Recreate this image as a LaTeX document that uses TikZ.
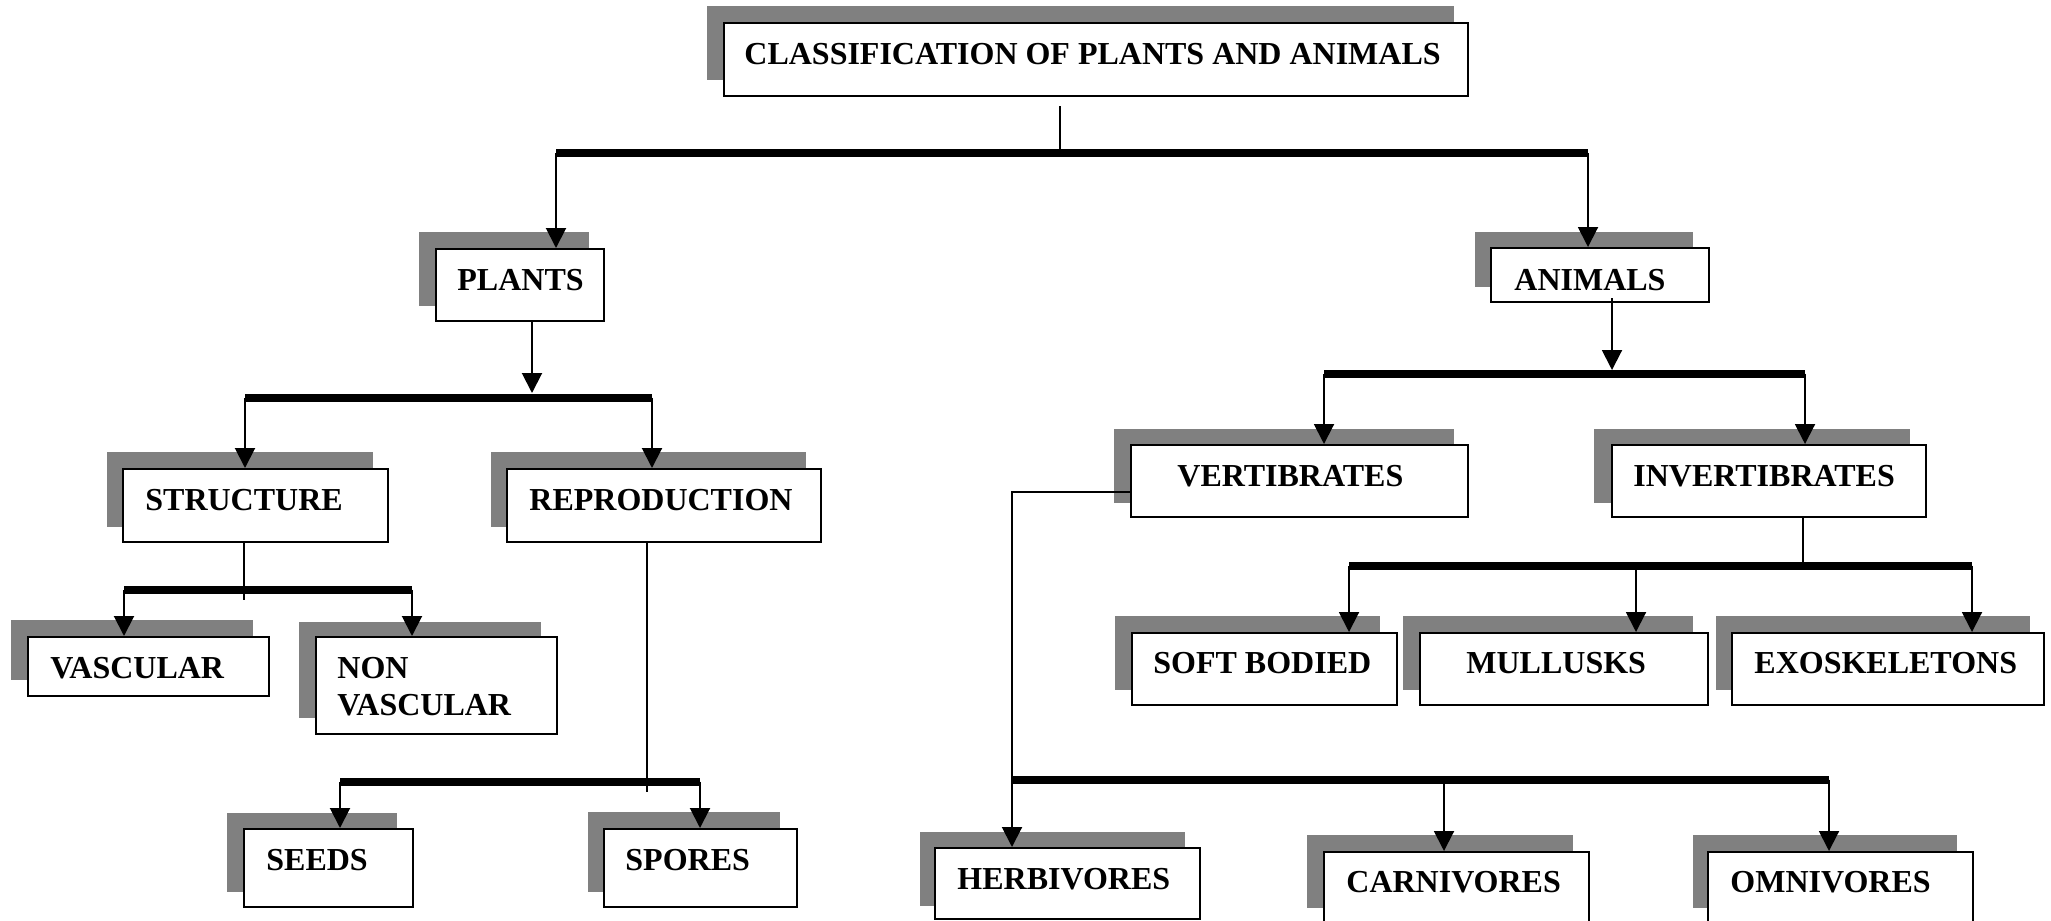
\documentclass[tikz,border=0pt]{standalone}
\usepackage{fontspec}
\setmainfont{Liberation Serif}
\usetikzlibrary{arrows.meta,fit}
\definecolor{shadowgray}{HTML}{808080}
\tikzset{
  boxnode/.style={draw=black, line width=1pt, fill=white, inner sep=0pt, rectangle},
  shadefill/.style={fill=shadowgray},
  lbl/.style={font=\fontsize{16}{18.5}\selectfont\bfseries, inner sep=0pt, anchor=base west, align=left},
  conn/.style={line width=1pt, draw=black},
  arr/.style={line width=1pt, draw=black, -{Triangle[width=10pt,length=10pt]}},
  barline/.style={line width=4pt, draw=black},
}
\newcommand{\shbox}[9]{%
  \fill[shadefill] (#2,#3) rectangle (#4,#5);
  \node[boxnode, fit={(#6,#7) (#8,#9)}] (#1) {};
}
\begin{document}
\begin{tikzpicture}[x=0.5pt,y=-0.5pt]
\clip (0,0) rectangle (2051,921);
\fill[white] (0,0) rectangle (2051,921);

% boxes
\shbox{title}{707}{6}{1454}{80}{724}{23}{1468}{96}
\node[lbl] (title-t) at (744,64) {CLASSIFICATION OF PLANTS AND ANIMALS};
\shbox{plants}{419}{232}{589}{306}{436}{249}{604}{321}
\node[lbl] (plants-t) at (457,290) {PLANTS};
\shbox{animals}{1475}{232}{1693}{287}{1491}{248}{1709}{302}
\node[lbl] (animals-t) at (1514,290) {ANIMALS};
\shbox{structure}{107}{452}{373}{527}{123}{469}{388}{542}
\node[lbl] (structure-t) at (145,510) {STRUCTURE};
\shbox{repro}{491}{452}{806}{527}{507}{469}{821}{542}
\node[lbl] (repro-t) at (529,510) {REPRODUCTION};
\shbox{vasc}{11}{620}{253}{680}{28}{637}{269}{696}
\node[lbl] (vasc-t) at (50,678) {VASCULAR};
\shbox{nonvasc}{299}{622}{541}{718}{316}{637}{557}{734}
\node[lbl] (nonvasc-t) at (337,715) {NON\\VASCULAR};
\shbox{seeds}{227}{813}{397}{892}{244}{829}{413}{907}
\node[lbl] (seeds-t) at (266,870) {SEEDS};
\shbox{spores}{588}{812}{780}{892}{604}{829}{797}{907}
\node[lbl] (spores-t) at (625,870) {SPORES};
\shbox{vert}{1114}{429}{1454}{503}{1131}{445}{1468}{517}
\node[lbl] (vert-t) at (1177,486) {VERTIBRATES};
\shbox{invert}{1594}{429}{1910}{503}{1612}{445}{1926}{517}
\node[lbl] (invert-t) at (1633,486) {INVERTIBRATES};
\shbox{soft}{1115}{616}{1380}{690}{1132}{633}{1397}{705}
\node[lbl] (soft-t) at (1153,673) {SOFT BODIED};
\shbox{mull}{1403}{616}{1693}{690}{1420}{633}{1708}{705}
\node[lbl] (mull-t) at (1466,673) {MULLUSKS};
\shbox{exo}{1716}{616}{2030}{690}{1732}{633}{2044}{705}
\node[lbl] (exo-t) at (1754,673) {EXOSKELETONS};
\shbox{herb}{920}{832}{1185}{906}{935}{848}{1200}{919}
\node[lbl] (herb-t) at (957,889) {HERBIVORES};
\shbox{carn}{1307}{835}{1573}{908}{1324}{852}{1589}{925}
\node[lbl] (carn-t) at (1346,892) {CARNIVORES};
\shbox{omni}{1693}{835}{1957}{908}{1708}{852}{1973}{925}
\node[lbl] (omni-t) at (1730,892) {OMNIVORES};

% level 1
\coordinate (b1l) at (556,153);
\coordinate (b1m) at (1060,153);
\coordinate (b1r) at (1588,153);
\draw[conn] ([yshift=-4.5pt]title.south -| b1m) -- (b1m);
\draw[barline] (b1l) -- (b1r);
\draw[arr] (b1l) -- (plants.north -| b1l);
\draw[arr] (b1r) -- (animals.north -| b1r);

% plants
\coordinate (b2l) at (245,397.5);
\coordinate (b2m) at (532,393);
\coordinate (b2r) at (652,397.5);
\draw[arr] (plants.south -| b2m) -- (b2m);
\draw[barline] (b2l) -- (b2r);
\draw[arr] (b2l) -- (structure.north -| b2l);
\draw[arr] (b2r) -- (repro.north -| b2r);

% structure
\coordinate (b3l) at (124,589.5);
\coordinate (b3m) at (244,600);
\coordinate (b3r) at (412,589.5);
\draw[conn] (structure.south -| b3m) -- (b3m);
\draw[barline] (b3l) -- (b3r);
\draw[arr] (b3l) -- (vasc.north -| b3l);
\draw[arr] (b3r) -- (nonvasc.north -| b3r);

% reproduction
\coordinate (b4l) at (340,781.5);
\coordinate (b4m) at (647,792);
\coordinate (b4r) at (700,781.5);
\draw[conn] (repro.south -| b4m) -- (b4m);
\draw[barline] (b4l) -- (b4r);
\draw[arr] (b4l) -- (seeds.north -| b4l);
\draw[arr] (b4r) -- (spores.north -| b4r);

% animals
\coordinate (b5l) at (1324,373.5);
\coordinate (b5m) at (1612,370);
\coordinate (b5r) at (1805,373.5);
\draw[arr] ([yshift=2.5pt]animals.south -| b5m) -- (b5m);
\draw[barline] (b5l) -- (b5r);
\draw[arr] (b5l) -- (vert.north -| b5l);
\draw[arr] (b5r) -- (invert.north -| b5r);

% invertibrates
\coordinate (b6l) at (1349,565.5);
\coordinate (b6m) at (1803,562);
\coordinate (b6c) at (1636,565.5);
\coordinate (b6r) at (1972,565.5);
\draw[conn] (invert.south -| b6m) -- (b6m);
\draw[barline] (b6l) -- (b6r);
\draw[arr] (b6l) -- (soft.north -| b6l);
\draw[arr] (b6c) -- (mull.north -| b6c);
\draw[arr] (b6r) -- (exo.north -| b6r);

% vertibrates
\coordinate (v1) at (1012,492);
\coordinate (b7l) at (1012,779.5);
\coordinate (b7c) at (1444,779.5);
\coordinate (b7r) at (1829,779.5);
\draw[barline] (b7l) -- (b7r);
\draw[arr] (vert.west |- v1) -- (v1) -- (herb.north -| v1);
\draw[arr] (b7c) -- (carn.north -| b7c);
\draw[arr] (b7r) -- (omni.north -| b7r);
\end{tikzpicture}
\end{document}
